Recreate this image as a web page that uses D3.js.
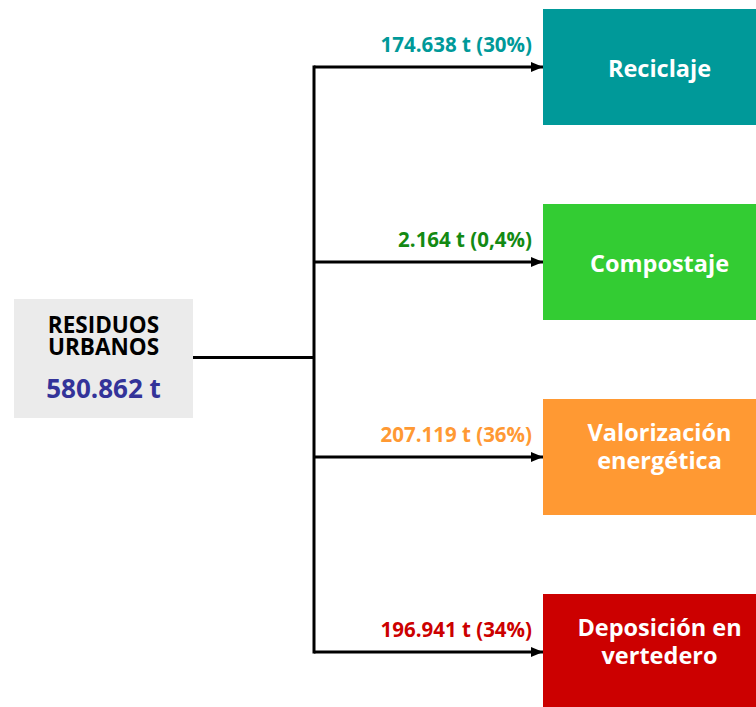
<!DOCTYPE html>
<html>
<head>
<meta charset="utf-8">
<script src="https://cdn.jsdelivr.net/npm/d3@7"></script>
<style>
  html, body { margin: 0; padding: 0; background: #fff; }
  svg { display: block; font-family: "Open Sans", "DejaVu Sans", sans-serif; font-weight: bold; }
</style>
</head>
<body>
<svg id="chart" width="756" height="707"></svg>
<script>
// data
const sourceName = ['RESIDUOS', 'URBANOS'];
const sourceTotal = '580.862 t';
const destinations = ['Reciclaje', 'Compostaje', 'Valorización energética', 'Deposición en vertedero'];
const destLines = [['Reciclaje'], ['Compostaje'], ['Valorización', 'energética'], ['Deposición en', 'vertedero']];
const tonnes = ['174.638', '2.164', '207.119', '196.941'];
const shares = ['30%', '0,4%', '36%', '34%'];
const boxColors = ['#009999', '#33cc33', '#ff9933', '#cc0000'];
const labelColors = ['#009999', '#138a13', '#ff9933', '#cc0000'];

const svg = d3.select('#chart');
const width = +svg.attr('width');
const height = +svg.attr('height');

const params = {
    source: { x: 14, y: 299, w: 179, h: 119 },
    trunkX: 314,
    boxX: 543,
    boxH: 116,
    textShift: 10,
    stroke: 3
};

const y = d3.scalePoint()
    .domain(destinations)
    .range([67, 652]);

const srcMid = params.source.y + params.source.h / 2 - 1;

svg.append('defs').append('marker')
    .attr('id', 'arrow')
    .attr('viewBox', '0 0 12 10')
    .attr('refX', 12)
    .attr('refY', 5)
    .attr('markerWidth', 12)
    .attr('markerHeight', 10)
    .attr('markerUnits', 'userSpaceOnUse')
    .attr('orient', 'auto')
    .append('path')
    .attr('d', 'M0,0 L12,5 L0,10 Z')
    .attr('fill', '#000');

// source box
const src = svg.append('g');
src.append('rect')
    .attr('x', params.source.x)
    .attr('y', params.source.y)
    .attr('width', params.source.w)
    .attr('height', params.source.h)
    .attr('fill', '#ebebeb');

src.append('text')
    .attr('text-anchor', 'middle')
    .attr('font-size', 22.5)
    .attr('fill', '#000')
    .selectAll('tspan')
    .data(sourceName)
    .enter()
    .append('tspan')
    .attr('x', params.source.x + params.source.w / 2)
    .attr('y', (d, i) => 333 + i * 22)
    .text(d => d);

src.append('text')
    .attr('x', params.source.x + params.source.w / 2)
    .attr('y', 398)
    .attr('text-anchor', 'middle')
    .attr('font-size', 26)
    .attr('fill', '#333399')
    .text(sourceTotal);

// connectors
svg.append('line')
    .attr('x1', params.source.x + params.source.w)
    .attr('x2', params.trunkX)
    .attr('y1', srcMid)
    .attr('y2', srcMid)
    .attr('stroke', '#000')
    .attr('stroke-width', params.stroke);

svg.append('line')
    .attr('x1', params.trunkX)
    .attr('x2', params.trunkX)
    .attr('y1', y(destinations[0]) - 1.5)
    .attr('y2', y(destinations[destinations.length - 1]) + 1.5)
    .attr('stroke', '#000')
    .attr('stroke-width', params.stroke);

const branch = svg.append('g')
    .selectAll('g')
    .data(destinations)
    .enter()
    .append('g');

branch.append('line')
    .attr('x1', params.trunkX)
    .attr('x2', params.boxX)
    .attr('y1', d => y(d))
    .attr('y2', d => y(d))
    .attr('stroke', '#000')
    .attr('stroke-width', params.stroke)
    .attr('marker-end', 'url(#arrow)');

branch.append('text')
    .attr('x', params.boxX - 11)
    .attr('y', d => y(d) - 15)
    .attr('text-anchor', 'end')
    .attr('font-size', 20.5)
    .attr('fill', (d, i) => labelColors[i])
    .text((d, i) => `${tonnes[i]} t (${shares[i]})`);

branch.append('rect')
    .attr('x', params.boxX)
    .attr('y', d => y(d) - params.boxH / 2)
    .attr('width', width - params.boxX)
    .attr('height', params.boxH)
    .attr('fill', (d, i) => boxColors[i]);

branch.append('text')
    .attr('text-anchor', 'middle')
    .attr('font-size', 23.5)
    .attr('fill', '#fff')
    .selectAll('tspan')
    .data((d, i) => destLines[i].map((t, j, arr) => ({ t, j, n: arr.length, cy: y(d) })))
    .enter()
    .append('tspan')
    .attr('x', params.boxX + (width - params.boxX) / 2 + params.textShift)
    .attr('y', d => d.cy + 10 + (d.j - (d.n - 1) / 2) * 28 - (d.n > 1 ? 12 : 0))
    .text(d => d.t);
</script>
</body>
</html>
